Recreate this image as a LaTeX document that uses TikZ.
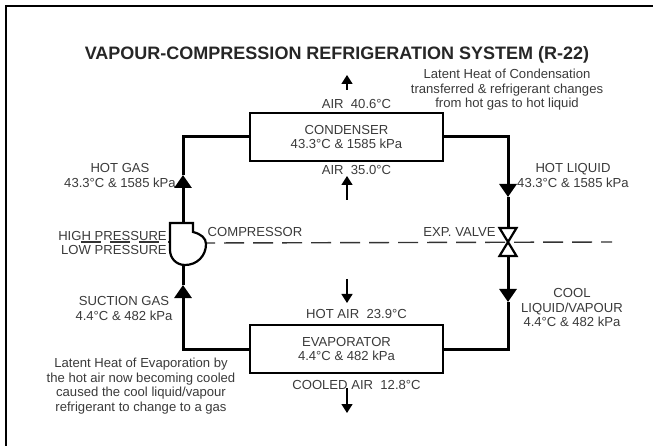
\documentclass[tikz,border=0pt]{standalone}
\usepackage{fontspec}
\setmainfont{Liberation Sans}
\usetikzlibrary{arrows.meta,positioning}
\definecolor{inkgray}{HTML}{3A3A3A}

\begin{document}
\begin{tikzpicture}[
  x=1pt, y=-1pt,
  node distance=1pt,
  lbl/.style={text=inkgray, align=center, inner sep=0pt, font=\fontsize{13.1}{14.6}\selectfont},
  unit/.style={draw=black, line width=2.6pt, minimum width=193pt, minimum height=48pt, align=center, inner sep=0pt, text=inkgray, font=\fontsize{13.1}{14.6}\selectfont},
  pipe/.style={line width=3pt, draw=black},
  flow/.style={pipe, -{Triangle[length=13pt,width=17pt]}},
  air/.style={line width=1.5pt, draw=black, -{Triangle[length=9pt,width=11pt]}},
  split/.style={line width=1.4pt, draw=black!80, dash pattern=on 20pt off 9pt},
  device/.style={line width=2.2pt, draw=black, fill=white}
]
\useasboundingbox (0,0) rectangle (653,446);

% frame
\draw[line width=2.6pt] (6,446) -- (6,6) -- (653,6);

\node (title) at (337,55) [inner sep=0pt, text=black!85, font=\fontsize{18}{20}\selectfont\bfseries] {VAPOUR-COMPRESSION REFRIGERATION SYSTEM (R-22)};

\node (condenser) at (346.5,137) [unit] {CONDENSER\\43.3°C \& 1585 kPa};
\node (evaporator) at (346.5,349) [unit] {EVAPORATOR\\4.4°C \& 482 kPa};

\node (airout) [lbl, above=3pt of condenser, xshift=10pt] {AIR\ \ 40.6°C};
\node (airin) [lbl, below=3pt of condenser, xshift=10pt] {AIR\ \ 35.0°C};
\node (hotair) [lbl, above=5pt of evaporator, xshift=10pt] {HOT AIR\ \ 23.9°C};
\node (coolair) [lbl, below=6pt of evaporator, xshift=10pt] {COOLED AIR\ \ 12.8°C};

\node (condnote) at (507,90) [lbl] {Latent Heat of Condensation\\transferred \& refrigerant changes\\from hot gas to hot liquid};
\node (evapnote) at (141,386) [lbl] {Latent Heat of Evaporation by\\the hot air now becoming cooled\\caused the cool liquid/vapour\\refrigerant to change to a gas};
\node (hotgas) at (120,175.5) [lbl] {HOT GAS\\43.3°C \& 1585 kPa};
\node (hotliquid) at (573,175.5) [lbl] {HOT LIQUID\\43.3°C \& 1585 kPa};
\node (suction) at (124,308.5) [lbl] {SUCTION GAS\\4.4°C \& 482 kPa};
\node (coolmix) at (572,307.5) [lbl] {COOL\\LIQUID/VAPOUR\\4.4°C \& 482 kPa};
\node (high) at (112.5,236) [lbl] {HIGH PRESSURE};
\node (low) [lbl, below=4pt of high.south east, anchor=north east] {LOW PRESSURE};
\node (compname) at (255,232) [lbl] {COMPRESSOR};
\node (valvename) at (459.5,232) [lbl] {EXP. VALVE};

\coordinate (compout) at (183,223);
\coordinate (compin) at (183,265);
\coordinate (compedge) at (206,243);
\coordinate (compback) at (170,242);
\coordinate (valve) at (508,242);
\coordinate (valvetop) at (508,228);
\coordinate (valvebot) at (508,256);
\coordinate (gastip) at (183,175);
\coordinate (liquidtip) at (508,197);
\coordinate (suctiontip) at (183,285);
\coordinate (cooltip) at (508,302);

% refrigerant loop
\draw[flow] (compout) -- (gastip);
\draw[pipe] (gastip) |- (condenser.west);
\draw[flow] (condenser.east) -| (liquidtip);
\draw[pipe] (liquidtip) -- (valvetop);
\draw[flow] (valvebot) -- (cooltip);
\draw[pipe] (cooltip) |- (evaporator.east);
\draw[flow] (evaporator.west) -| (suctiontip);
\draw[pipe] (suctiontip) -- (compin);

% pressure split
\draw[split, dash phase=11pt] (compedge) -- (612,242);
\draw[split] (81,242) -- (compback);

% compressor and valve
\draw[device] (170,223) -- (193,223) -- (193,232)
  .. controls (201,234) and (206,238) .. (206,244)
  .. controls (206,256) and (197,265) .. (185,265)
  .. controls (176,265) and (170,258) .. (170,250) -- cycle;
\draw[device] (valve) -- ++(-8.5,-14) -- ++(17,0) -- cycle;
\draw[device] (valve) -- ++(-8.5,14) -- ++(17,0) -- cycle;

% air streams
\draw[air] (347,90) -- (347,75);
\draw[air] (347,200) -- (347,176);
\draw[air] (347,279) -- (347,303);
\draw[air] (347,388) -- (347,413);

\end{tikzpicture}
\end{document}
